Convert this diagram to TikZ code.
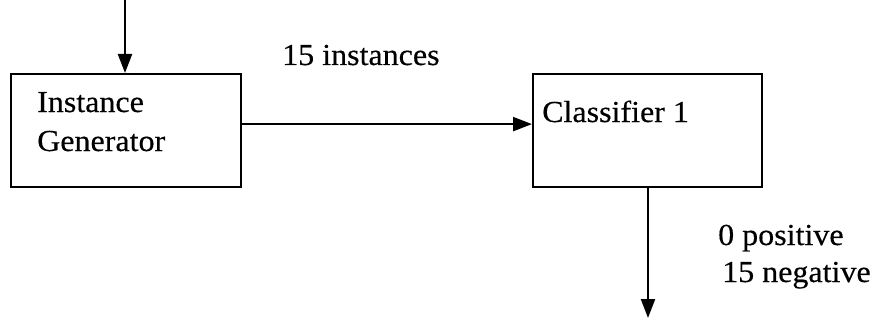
\documentclass[tikz,border=0pt]{standalone}
\usepackage{fontspec}
\setmainfont{Liberation Serif}
\newfontfamily\scanfont[FakeStretch=1.05,FakeBold=0.4]{Liberation Serif}
\usetikzlibrary{arrows.meta}
\begin{document}
\begin{tikzpicture}[x=1pt,y=-1pt,
  box/.style={draw,line width=2.2pt,inner sep=0pt,anchor=north west,minimum height=113pt},
  lbl/.style={anchor=base west,inner sep=0pt,font=\scanfont\fontsize{30.5}{36}\selectfont},
  conn/.style={line width=2.2pt,-{Triangle[length=19pt,width=14pt]}}]
\useasboundingbox (0,0) rectangle (878,321);
\node[box,minimum width=230pt] (g) at (10,73) {};
\node[box,minimum width=229pt] (c) at (532,73) {};
\node[lbl] (gt1) at (37,112) {Instance};
\node[lbl] (gt2) at (37,151) {Generator};
\node[lbl] (ct) at (542,122) {Classifier 1};
\node[lbl] (inst) at (282,65) {15 instances};
\node[lbl] (pos) at (718,245) {0 positive};
\node[lbl] (neg) at (722,282) {15 negative};
\coordinate (in) at (125,0);
\coordinate (out) at (648,318);
\draw[conn] (in) -- (in |- g.north);
\draw[conn] ([yshift=6.5pt]g.east) -- ([yshift=6.5pt]c.west);
\draw[conn] (c.south -| out) -- (out);
\end{tikzpicture}
\end{document}
